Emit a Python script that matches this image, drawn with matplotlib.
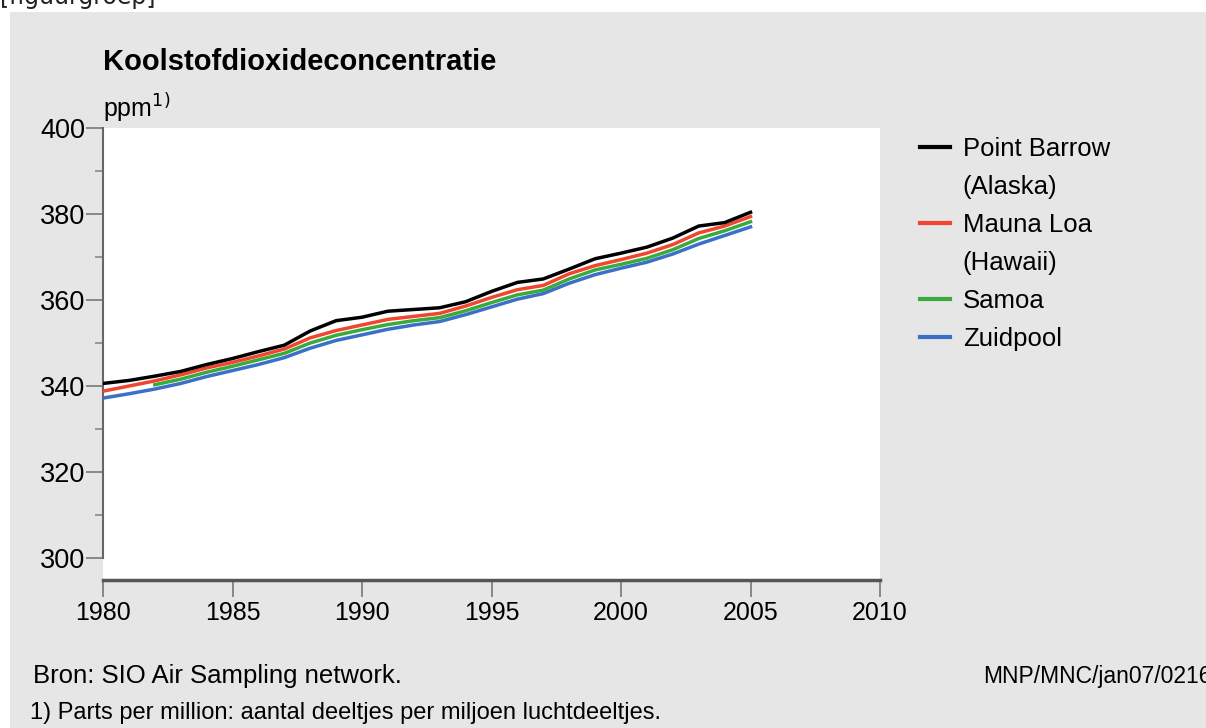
import numpy as np
import matplotlib.pyplot as plt
from matplotlib.patches import Rectangle
from matplotlib.lines import Line2D

# CO2 annual means (ppm)
years = np.arange(1980, 2006)
point_barrow = [340.6, 341.3, 342.3, 343.4, 345.0, 346.4, 348.0, 349.5, 352.8, 355.2,
                356.0, 357.4, 357.8, 358.2, 359.6, 362.0, 364.1, 364.9, 367.2, 369.6,
                370.9, 372.3, 374.4, 377.2, 378.0, 380.4]
mauna_loa = [338.8, 340.0, 341.2, 342.6, 344.2, 345.5, 347.0, 348.6, 351.2, 352.9,
             354.2, 355.5, 356.2, 356.9, 358.6, 360.6, 362.4, 363.4, 366.1, 368.0,
             369.4, 370.9, 372.9, 375.6, 377.2, 379.4]
samoa_years = np.arange(1982, 2006)
samoa = [340.3, 341.6, 343.2, 344.6, 346.1, 347.6, 350.0, 351.8, 353.1, 354.3,
         355.2, 355.9, 357.5, 359.4, 361.2, 362.3, 364.9, 367.0, 368.3, 369.7,
         371.7, 374.3, 376.1, 378.2]
zuidpool = [337.2, 338.2, 339.3, 340.6, 342.2, 343.6, 345.0, 346.6, 348.8, 350.6,
            351.9, 353.2, 354.2, 355.0, 356.6, 358.4, 360.2, 361.5, 363.9, 365.9,
            367.4, 368.8, 370.7, 373.0, 375.0, 377.0]

names = ["Point Barrow", "Mauna Loa", "Samoa", "Zuidpool"]
sublabels = ["(Alaska)", "(Hawaii)", None, None]
colors = ["#000000", "#f2452f", "#3aaa3a", "#3a70c8"]

plt.rcParams['font.family'] = ['Liberation Sans', 'DejaVu Sans']

W, H = 1206, 728
fig = plt.figure(figsize=(W / 100, H / 100), dpi=100, facecolor="white")
bg = Rectangle((10 / W, 0), 1 - 10 / W, 1 - 12 / H, transform=fig.transFigure,
               facecolor="#e6e6e6", edgecolor="none", zorder=-10)
fig.add_artist(bg)
fig.text(0, 1 - 4 / H, "[figuurgroep]", family="DejaVu Sans", fontsize=17,
         va="baseline", ha="left", color="#222222")

ax = fig.add_axes([103 / W, 1 - 580 / H, (880 - 103) / W, (580 - 128) / H])
ax.set_zorder(1)
ax.set_facecolor("white")

l1, = ax.plot(years, point_barrow, color=colors[0], lw=2.5, zorder=5)
l2, = ax.plot(years, mauna_loa, color=colors[1], lw=2.5, zorder=4)
l3, = ax.plot(samoa_years, samoa, color=colors[2], lw=2.5, zorder=3)
l4, = ax.plot(years, zuidpool, color=colors[3], lw=2.5, zorder=2)

ax.set_xlim(1980, 2010)
ax.set_ylim(294.9, 400)
ax.set_xticks(range(1980, 2011, 5))
ax.set_yticks(range(300, 401, 20))
ax.set_yticks(range(310, 400, 20), minor=True)

for s in ["top", "right"]:
    ax.spines[s].set_visible(False)
ax.spines["left"].set_bounds(300, 400)
ax.spines["left"].set_color("#666666")
ax.spines["left"].set_linewidth(1.5)
ax.spines["bottom"].set_color("#555555")
ax.spines["bottom"].set_linewidth(2.5)

ax.tick_params(axis="y", which="major", length=12, width=1.2, color="#777777",
               labelsize=19.5, pad=1)
ax.tick_params(axis="y", which="minor", length=5.5, width=1.2, color="#888888")
ax.tick_params(axis="x", length=12, width=1.2, color="#777777", labelsize=18, pad=3)

fig.text(103 / W, 1 - 70 / H, "Koolstofdioxideconcentratie", fontsize=21,
         fontweight="bold", ha="left", va="baseline")
fig.text(103 / W, 1 - 117 / H, "ppm$^{1)}$", fontsize=18, ha="left", va="baseline")

# legend: two-line station names get a second entry without a handle
handles, labels = [], []
for line, name, sub in zip([l1, l2, l3, l4], names, sublabels):
    handles.append(line)
    labels.append(name)
    if sub:
        handles.append(Line2D([], [], color="none"))
        labels.append(sub)
leg = ax.legend(handles, labels, loc="upper left", bbox_to_anchor=(910 / W, 1 - 127 / H),
                bbox_transform=fig.transFigure, frameon=False, fontsize=18.5,
                handlelength=1.15, handletextpad=0.5, labelspacing=0.54,
                borderaxespad=0)
for line in leg.get_lines():
    line.set_linewidth(3)

fig.text(33 / W, 1 - 683 / H, "Bron: SIO Air Sampling network.", fontsize=18.5,
         ha="left", va="baseline")
fig.text(30 / W, 1 - 719 / H, "1) Parts per million: aantal deeltjes per miljoen luchtdeeltjes.",
         fontsize=17, ha="left", va="baseline")
fig.text(983 / W, 1 - 683 / H, "MNP/MNC/jan07/0216", fontsize=16.5,
         ha="left", va="baseline")

fig.savefig("out.png", dpi=100)
